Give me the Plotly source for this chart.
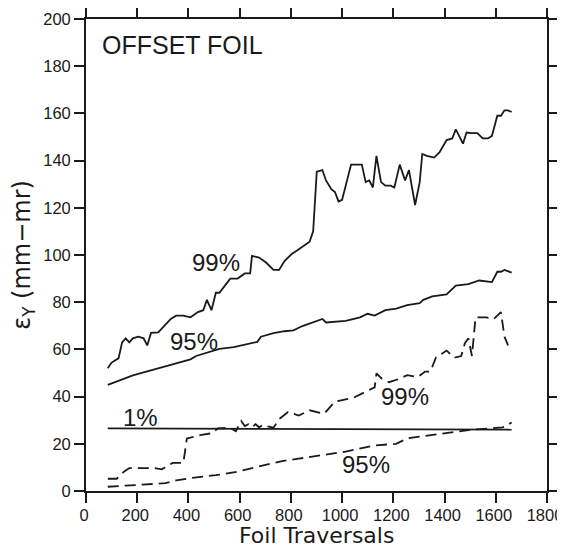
import plotly.graph_objects as go

# 99% emittance, solid
x99 = [85, 99, 113, 127, 141, 155, 169, 183, 204, 225, 239, 254, 282, 310, 331, 352, 380, 408, 437, 458,
       472, 490, 507, 521, 542, 563, 592, 620, 641, 648, 676, 704, 732, 754, 775, 803, 824, 852, 873, 887,
       901, 923, 937, 958, 972, 986, 1000, 1014, 1035, 1056, 1077, 1092, 1106, 1120, 1134, 1152, 1169, 1190,
       1204, 1225, 1246, 1261, 1285, 1303, 1313, 1331, 1359, 1380, 1408, 1430, 1444, 1472, 1486, 1507, 1528,
       1549, 1570, 1585, 1606, 1620, 1634, 1648, 1662]
y99 = [52, 54.3, 55.3, 56.2, 63, 64.7, 63, 64.7, 65.4, 64.7, 61.7, 67, 67.2, 70.6, 72.9, 74.3, 74.3, 73.6, 75.8, 76.6,
       81, 76.6, 84, 84, 87, 90, 90, 92.2, 92.2, 99.6, 98.9, 96.7, 93.7, 93.7, 97.4, 100.4, 101.9, 104.1, 105.6, 110,
       135.3, 136, 131.6, 127.9, 126.7, 122.7, 123.4, 129.4, 138.3, 138.3, 138.3, 130.9, 131.6, 128.6, 142, 130.9, 129.4, 129.4,
       128.6, 138.3, 131.6, 136, 121.2, 130.9, 142.8, 142, 141.3, 143.5, 148.7, 149.4, 153.2, 147.2, 151.9, 151.6, 151.6,
       149.4, 149.4, 150.5, 159, 159, 161.3, 161.3, 160.6]

# 95% emittance, solid
x95 = [85, 141, 183, 225, 282, 324, 380, 408, 430, 472, 521, 577, 634, 669, 683, 732, 775, 810, 845, 901, 923, 937,
       1014, 1070, 1099, 1127, 1169, 1211, 1254, 1303, 1317, 1352, 1408, 1444, 1493, 1535, 1585, 1606, 1620, 1634, 1662]
y95 = [45, 47.3, 49, 50.3, 52, 53.5, 55, 55.8, 57.2, 58.7, 60.2, 61, 62.5, 63.2, 65.4, 66.9, 67.7, 68.1, 69.9, 72.1, 72.9, 71.4,
       72.1, 73.6, 75.1, 74.3, 76.6, 77.3, 78.8, 79.6, 81, 82.5, 83.3, 87, 87.7, 89.2, 88.5, 92.9, 92.9, 93.7, 92.5]

# 1% emittance, solid
x01 = [85, 400, 800, 1200, 1662]
y01 = [26.5, 26.4, 26.2, 26.1, 26.0]

# 99% emittance, dashed
x99d = [85, 120, 148, 169, 225, 268, 296, 338, 380, 394, 451, 493, 514, 563, 585, 606, 620, 634, 648, 662, 676, 690,
        704, 732, 754, 789, 831, 873, 930, 972, 1042, 1099, 1127, 1134, 1155, 1183, 1225, 1254, 1296, 1324, 1345,
        1366, 1408, 1437, 1465, 1479, 1493, 1507, 1521, 1563, 1592, 1620, 1634, 1648]
y99d = [5.2, 5.2, 8.2, 9.7, 9.7, 9.7, 9.2, 11.9, 11.9, 22.3, 23.8, 24.5, 26.5, 26.8, 25.3, 29.7, 27.5, 28.3, 27.0, 28.3, 27.0, 28.0,
        27.5, 26.8, 30.5, 33.5, 32, 34.2, 32.7, 37.9, 39.4, 42.4, 43.9, 49.8, 47.6, 46.1, 47.6, 49.1, 48.3, 50.6, 50.6,
        56.5, 59.5, 56.5, 57.2, 62.5, 64.7, 57.2, 73.6, 73.6, 72.9, 75.8, 65.4, 61.7]

# 95% emittance, dashed
x95d = [85, 197, 310, 352, 423, 507, 592, 676, 761, 831, 901, 1014, 1127, 1211, 1254, 1352, 1437, 1507, 1577, 1627, 1662]
y95d = [1.8, 2.7, 3.3, 4.5, 5.7, 6.7, 8.2, 10.4, 12.6, 13.7, 14.9, 16.7, 19.3, 20, 22.3, 23.8, 25, 26, 26.5, 27, 29]

# text labels
label_text = ["99%", "95%", "1%", "99%", "95%"]
label_x = [507, 423, 211, 1246, 1092]
label_y = [96.7, 63.2, 31.2, 40.1, 11.2]

xticks = [0, 200, 400, 600, 800, 1000, 1200, 1400, 1600, 1800]
yticks = [0, 20, 40, 60, 80, 100, 120, 140, 160, 180, 200]

FONT = "Liberation Sans"
TFONT = "DejaVu Sans"
INK = "#1a1a1a"
fig = go.Figure()

def add(x, y, dash):
    fig.add_trace(go.Scatter(x=x, y=y, mode="lines",
                             line=dict(color=INK, width=1.8, dash=dash),
                             showlegend=False, hoverinfo="skip"))

add(x99, y99, "solid")
add(x95, y95, "solid")
add(x01, y01, "solid")
add(x99d, y99d, "11px,6px")
add(x95d, y95d, "11px,6px")

for t, xx, yy in zip(label_text, label_x, label_y):
    fig.add_annotation(x=xx, y=yy, text=t, showarrow=False,
                       font=dict(family=FONT, size=24, color=INK))

fig.add_annotation(x=54, y=188.8, text="OFFSET FOIL", showarrow=False, xanchor="left",
                   font=dict(family=FONT, size=25, color=INK))

# x-axis title placed below tick labels, box ending at the page bottom
fig.add_annotation(xref="paper", yref="paper", x=0.5, y=0, yshift=-58, yanchor="bottom",
                   text="Foil Traversals", showarrow=False, borderpad=0,
                   font=dict(family=TFONT, size=22, color=INK))

axis_common = dict(showgrid=False, zeroline=False, showline=True, linecolor=INK, linewidth=1.8,
                   ticks="outside", ticklen=10, tickwidth=1.5, tickcolor=INK, mirror="ticks",
                   automargin=False, ticklabeloverflow="allow",
                   tickfont=dict(family=FONT, size=16.5, color=INK))

fig.update_xaxes(range=[0, 1800], tickvals=xticks, ticktext=[str(v) for v in xticks],
                 ticklabelshift=-2, ticklabelstandoff=-2, **axis_common)
fig.update_yaxes(range=[0, 200], tickvals=yticks, ticktext=[str(v) for v in yticks],
                 title=dict(text="ε<sub>Y</sub> (mm−mr)", font=dict(family=TFONT, size=24, color=INK), standoff=8),
                 **axis_common)

# page body has an 8px margin, so the figure is drawn 8px in from the top-left corner
fig.update_layout(width=557, height=542, margin=dict(l=78, r=18, t=11, b=59),
                  plot_bgcolor="white", paper_bgcolor="white")

fig.write_html("out.html")
